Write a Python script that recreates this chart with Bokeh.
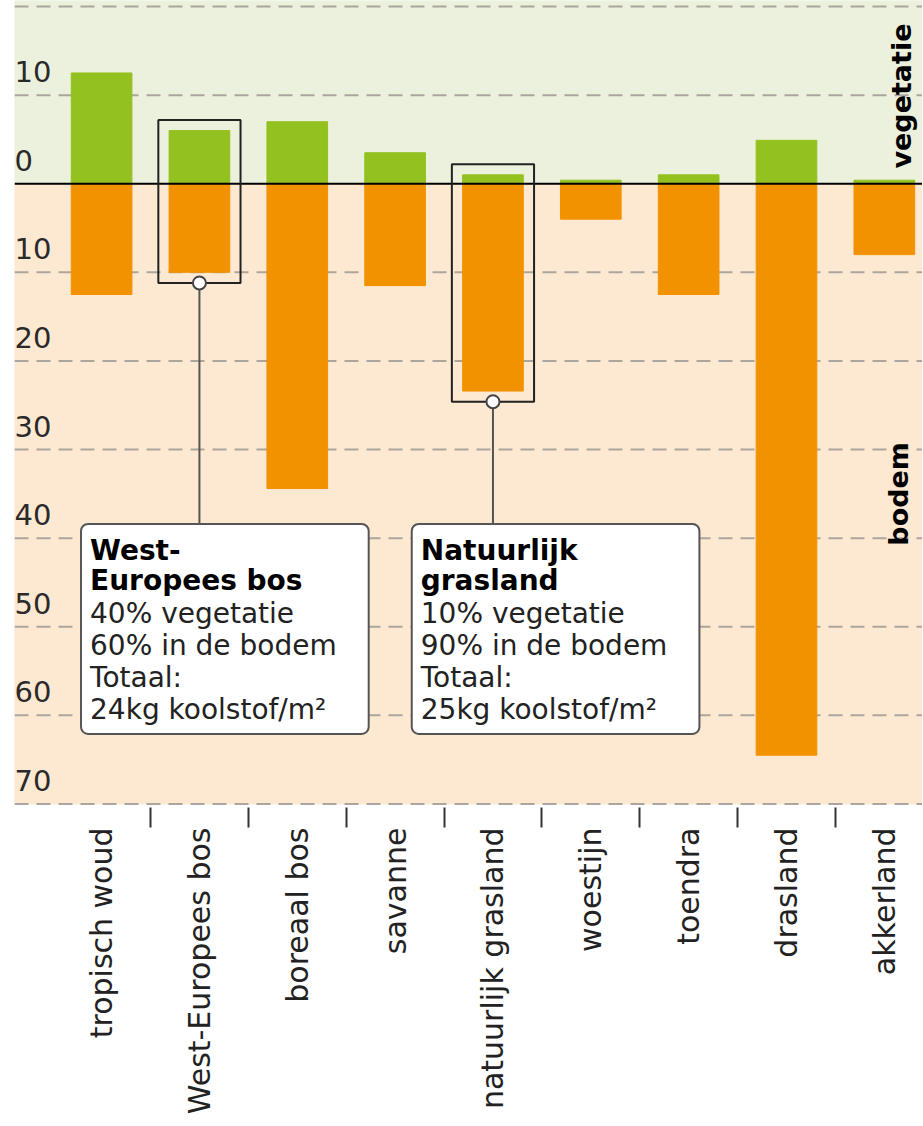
import math
from bokeh.plotting import figure
from bokeh.models import FixedTicker, Range1d
from bokeh.core.properties import value
from bokeh.embed import file_html
from bokeh.resources import INLINE

# ---- data ----
categories = ["tropisch woud", "West-Europees bos", "boreaal bos", "savanne",
              "natuurlijk grasland", "woestijn", "toendra", "drasland", "akkerland"]
vegetatie = [12.5, 6.0, 7.0, 3.5, 1.0, 0.4, 1.0, 4.9, 0.4]
bodem = [12.5, 10.0, 34.4, 11.5, 23.4, 4.0, 12.5, 64.5, 8.0]
tick_values = [10, 0, -10, -20, -30, -40, -50, -60, -70]
tick_labels = ["10", "0", "10", "20", "30", "40", "50", "60", "70"]
grid_values = [20, 10, -10, -20, -30, -40, -50, -60, -70]
highlight = [1, 4]
note_titles = ["West-\nEuropees bos", "Natuurlijk\ngrasland"]
note_bodies = ["40% vegetatie\n60% in de bodem\nTotaal:\n24kg koolstof/m\u00b2",
               "10% vegetatie\n90% in de bodem\nTotaal:\n25kg koolstof/m\u00b2"]

# ---- layout / style ----
FONT = "DejaVu Sans"
X0, X1 = -0.89, 8.39
Y0, Y1 = -70.4, 20.68
GREEN_BG = "#ecf1dd"
ORANGE_BG = "#fde8d1"
GREEN = "#93c11f"
ORANGE = "#f39200"
GRID = "#aaa69e"
TXT = "#222222"

idx = list(range(len(categories)))

p = figure(frame_width=908, frame_height=807,
           x_range=Range1d(X0, X1), y_range=Range1d(Y0, Y1),
           output_backend="svg", toolbar_location=None,
           min_border_left=14, min_border_right=0, min_border_top=0, min_border_bottom=0)
p.outline_line_color = None
p.grid.visible = False
p.yaxis.visible = False
p.background_fill_color = "white"
p.border_fill_color = "white"

# x axis: labels at category centres, separator ticks between them
xa = p.xaxis[0]
xa.ticker = FixedTicker(ticks=idx, minor_ticks=[i + 0.5 for i in idx[:-1]])
xa.major_label_overrides = {i: c for i, c in zip(idx, categories)}
xa.major_label_orientation = math.pi / 2
xa.major_tick_line_color = None
xa.major_tick_out = 0
xa.major_tick_in = 0
xa.minor_tick_out = 20
xa.minor_tick_in = 0
xa.minor_tick_line_color = "#333333"
xa.minor_tick_line_width = 2
xa.axis_line_color = None
xa.major_label_standoff = 0
xa.major_label_text_font = FONT
xa.major_label_text_font_size = "30px"
xa.major_label_text_color = TXT

# backgrounds
p.quad(left=X0, right=X1, bottom=0, top=Y1, color=GREEN_BG)
p.quad(left=X0, right=X1, bottom=-70, top=0, color=ORANGE_BG)

# dashed gridlines
p.segment(x0=[X0] * len(grid_values), x1=[X1] * len(grid_values),
          y0=grid_values, y1=grid_values,
          line_color=GRID, line_width=2, line_dash="14 8")

# bars
p.vbar(x=idx, width=0.62, bottom=0, top=vegetatie, color=GREEN)
p.vbar(x=idx, width=0.62, top=0, bottom=[-b for b in bodem], color=ORANGE)

# zero line
p.segment(x0=[X0], x1=[X1], y0=[0], y1=[0], line_color="black", line_width=2)

# y tick labels inside plot
p.text(x=[X0] * len(tick_values), y=tick_values, text=tick_labels,
       y_offset=-13, text_baseline="bottom", text_align="left",
       text_font=value(FONT), text_font_size="29px", text_color="#2a2a2a")

# side labels
p.text(x=[8.18], y=[9.9], text=["vegetatie"], angle=math.pi / 2,
       text_align="center", text_baseline="middle",
       text_font=value(FONT), text_font_size="27px", text_font_style="bold", text_color="black")
p.text(x=[8.14], y=[-35.0], text=["bodem"], angle=math.pi / 2,
       text_align="center", text_baseline="middle",
       text_font=value(FONT), text_font_size="27px", text_font_style="bold", text_color="black")

# highlight boxes, leader lines and callouts
note_left = [-0.21, 3.17]
note_right = [2.73, 6.11]
note_top = -38.4
note_bottom = -62.1
hx = highlight
box_top = [vegetatie[i] + 1.2 for i in hx]
box_bot = [-(bodem[i] + 1.2) for i in hx]

p.quad(left=[i - 0.42 for i in hx], right=[i + 0.42 for i in hx],
       top=box_top, bottom=box_bot, fill_color=None, line_color="#222222", line_width=2)
p.segment(x0=hx, x1=hx, y0=box_bot, y1=[note_top] * len(hx), line_color="#555555", line_width=2)
p.quad(left=note_left, right=note_right, top=[note_top] * 2, bottom=[note_bottom] * 2,
       fill_color="white", line_color="#555555", line_width=2, border_radius=7)
p.scatter(x=hx, y=box_bot, size=13, fill_color="white", line_color="#444444", line_width=2)

p.text(x=note_left, y=[note_top] * 2, text=note_titles, x_offset=9, y_offset=10,
       text_baseline="top", text_align="left", text_line_height=0.92,
       text_font=value(FONT), text_font_size="28px", text_font_style="bold", text_color="black")
p.text(x=note_left, y=[note_top] * 2, text=note_bodies, x_offset=9, y_offset=73,
       text_baseline="top", text_align="left", text_line_height=0.97,
       text_font=value(FONT), text_font_size="28px", text_color=TXT)

open("out.html", "w").write(file_html(p, INLINE))
